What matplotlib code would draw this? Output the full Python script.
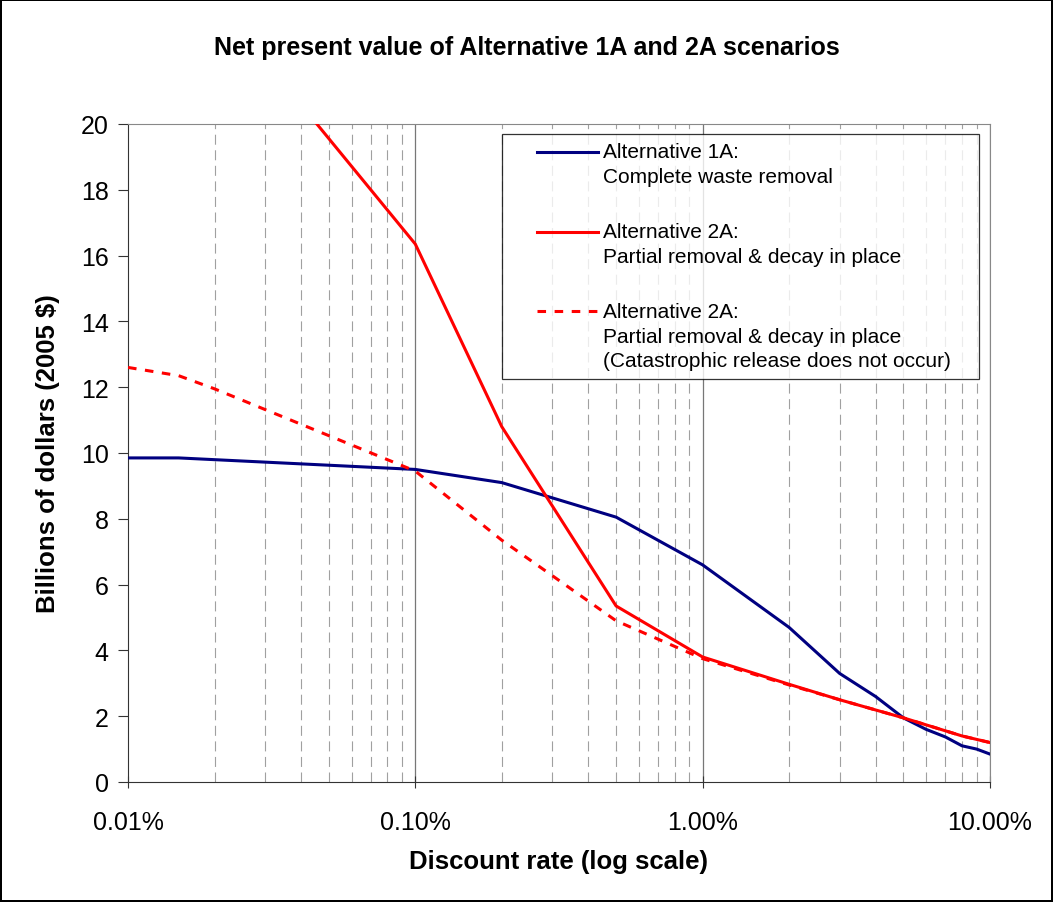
import matplotlib.pyplot as plt
from matplotlib.ticker import FixedLocator, FixedFormatter, NullFormatter

plt.rcParams['font.family'] = ['Liberation Sans', 'DejaVu Sans']

# discount rate in percent
rate_1a = [0.01, 0.015, 0.1, 0.2, 0.5, 1, 2, 3, 4, 5, 6, 7, 8, 9, 10]
npv_1a = [9.85, 9.85, 9.5, 9.1, 8.05, 6.6, 4.7, 3.3, 2.6, 1.95, 1.6, 1.37, 1.1, 1.0, 0.85]

rate_2a = [0.01, 0.1, 0.2, 0.5, 1, 2, 3, 5, 8, 10]
npv_2a = [27.0, 16.35, 10.8, 5.35, 3.8, 2.97, 2.5, 1.95, 1.4, 1.2]

rate_2a_nc = [0.01, 0.015, 0.02, 0.1, 0.2, 0.3, 0.5, 1, 2, 3, 5, 8, 10]
npv_2a_nc = [12.6, 12.35, 11.95, 9.45, 7.35, 6.27, 4.9, 3.75, 2.95, 2.5, 1.95, 1.4, 1.2]

labels = ['Alternative 1A:\nComplete waste removal',
          'Alternative 2A:\nPartial removal & decay in place',
          'Alternative 2A:\nPartial removal & decay in place\n(Catastrophic release does not occur)']
xticks = [0.01, 0.1, 1, 10]
xticklabels = ['0.01%', '0.10%', '1.00%', '10.00%']

fig = plt.figure(figsize=(10.53, 9.03), dpi=100)
fig.patch.set_edgecolor('black')
fig.patch.set_linewidth(1.5)
ax = fig.add_axes([0.1216, 0.1329, 0.8184, 0.7287])

# vertical grid lines
for d in [0.01, 0.1, 1]:
    for m in range(2, 10):
        ax.axvline(d * m, color='#a0a0a0', lw=0.8, dashes=(9, 5), zorder=1)
for x in [0.1, 1, 10]:
    ax.axvline(x, color='#777777', lw=0.9, zorder=1)

ax.plot(rate_1a, npv_1a, color='#000080', lw=2.2, label=labels[0], zorder=3)
ax.plot(rate_2a, npv_2a, color='#ff0000', lw=2.2, label=labels[1], zorder=3)
ax.plot(rate_2a_nc, npv_2a_nc, color='#ff0000', lw=2.2, dashes=(2.8, 2.8),
        label=labels[2], zorder=3)

ax.set_xscale('log')
ax.set_xlim(0.01, 10)
ax.set_ylim(0, 20)
ax.set_yticks(range(0, 21, 2))
ax.xaxis.set_major_locator(FixedLocator(xticks))
ax.xaxis.set_major_formatter(FixedFormatter(xticklabels))
ax.xaxis.set_minor_formatter(NullFormatter())
ax.tick_params(axis='x', which='minor', length=0)
ax.tick_params(axis='both', which='major', labelsize=18, color='#333333')
ax.tick_params(axis='y', which='major', length=7, direction='out', pad=7)
ax.tick_params(axis='x', which='major', length=9, direction='inout', pad=16)

for s in ['left', 'bottom']:
    ax.spines[s].set_color('#333333')
for s in ['top', 'right']:
    ax.spines[s].set_color('#888888')

ax.set_xlabel('Discount rate (log scale)', fontsize=18.5, fontweight='bold')
ax.set_ylabel('Billions of dollars (2005 $)', fontsize=18.5, fontweight='bold')
ax.xaxis.set_label_coords(0.5, -0.102)
ax.yaxis.set_label_coords(-0.079, 0.5)
fig.suptitle('Net present value of Alternative 1A and 2A scenarios', fontsize=18,
             fontweight='bold', y=0.96)

fs = 15
ls = 1.37
leg = ax.legend(loc='upper left', bbox_to_anchor=(0.434, 0.0, 0.554, 0.985),
                mode='expand', borderaxespad=0, fontsize=fs, frameon=True,
                fancybox=False, edgecolor='black', handlelength=4.2,
                handletextpad=0.25, labelspacing=1.75, borderpad=0.4)
leg.get_frame().set_linewidth(0.9)
# align each handle with the first line of its label, start it a bit inside the box
for h, t in zip(leg.legend_handles, leg.get_texts()):
    t.set_linespacing(ls)
    n = t.get_text().count('\n')
    xd = list(h.get_xdata())
    y0 = list(h.get_ydata())[0] + n * 0.88 * fs * ls / 2
    h.set_data([xd[0] + 1.3 * fs, xd[-1]], [y0, y0])

fig.savefig('out.png', dpi=100)
